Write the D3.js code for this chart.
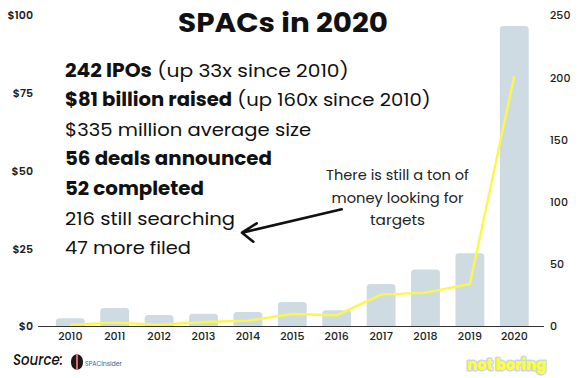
<!DOCTYPE html>
<html><head><meta charset="utf-8">
<script src="https://cdn.jsdelivr.net/npm/d3@7"></script>
<style>body{margin:0;background:#fff}svg{display:block}</style>
</head><body>
<svg id="c" width="582" height="378"></svg>
<script>
// ---- data ----
const years = ["2010","2011","2012","2013","2014","2015","2016","2017","2018","2019","2020"];
const raisedBillions = [2.5, 5.8, 3.5, 3.9, 4.5, 7.7, 5.1, 13.5, 18.2, 23.4, 96.5];
const ipoCounts = [1, 2.7, 1, 3.2, 4.3, 9.6, 8.6, 25.2, 26.8, 33.8, 201];
const leftTicks = [0, 25, 50, 75, 100];
const rightTicks = [0, 50, 100, 150, 200, 250];
const titleText = "SPACs in 2020";
const statLines = [
  [["242 IPOs", true], [" (up 33x since 2010)", false]],
  [["$81 billion raised", true], [" (up 160x since 2010)", false]],
  [["$335 million average size", false]],
  [["56 deals announced", true]],
  [["52 completed", true]],
  [["216 still searching", false]],
  [["47 more filed", false]]
];
const annotationLines = ["There is still a ton of", "money looking for", "targets"];

// ---- layout ----
const FONT = "Poppins, Inter, 'Open Sans', sans-serif";
const svg = d3.select("#c");
svg.append("rect").attr("width", 582).attr("height", 378).attr("fill", "#fff");

const x = d3.scaleBand().domain(years).range([48.1, 536.5]).paddingInner(0.35).paddingOuter(0.175);
const yL = d3.scaleLinear().domain([0, 100]).range([326, 15]);
const yR = d3.scaleLinear().domain([0, 250]).range([326, 15]);

function fitText(g, textSel, target) {
  const w = textSel.node().getComputedTextLength();
  const s = target / w;
  const t = g.attr("data-t");
  g.attr("transform", t + ` scale(${s},1)`);
}

// bars
function topRounded(x0, y0, w, h, r) {
  r = Math.min(r, h / 2, w / 2);
  return `M${x0},${y0 + h}V${y0 + r}Q${x0},${y0} ${x0 + r},${y0}H${x0 + w - r}Q${x0 + w},${y0} ${x0 + w},${y0 + r}V${y0 + h}Z`;
}
svg.append("g").selectAll("path").data(years).join("path")
  .attr("fill", "#cfdbe3")
  .attr("d", (yr, i) => topRounded(x(yr), yL(raisedBillions[i]), x.bandwidth(), yL(0) - yL(raisedBillions[i]), 3.5));

// baseline
svg.append("line").attr("x1", 38).attr("x2", 544).attr("y1", yL(0) + 0.5).attr("y2", yL(0) + 0.5)
  .attr("stroke", "#333").attr("stroke-width", 1.2);

// line
const line = d3.line().x((d, i) => x(years[i]) + x.bandwidth() / 2).y(d => yR(d));
svg.append("path").datum(ipoCounts).attr("d", line).attr("fill", "none")
  .attr("stroke", "#fbf84a").attr("stroke-width", 2.4).attr("stroke-linejoin", "round");

// left axis
const axL = d3.axisLeft(yL).tickValues(leftTicks).tickSize(0).tickPadding(0).tickFormat(d => "$" + d);
const gL = svg.append("g").attr("transform", "translate(33,0)").call(axL);
gL.select(".domain").remove();
gL.selectAll("text").attr("font-family", FONT).attr("font-size", 11).attr("font-weight", 600).attr("fill", "#222").attr("dy", "0.35em");

// right axis
const axR = d3.axisRight(yR).tickValues(rightTicks).tickSize(0).tickPadding(0);
const gR = svg.append("g").attr("transform", "translate(550,0)").call(axR);
gR.select(".domain").remove();
gR.selectAll("text").attr("font-family", FONT).attr("font-size", 11).attr("font-weight", 500).attr("fill", "#222").attr("dy", "0.35em");

// bottom axis
const axB = d3.axisBottom(x).tickSize(0).tickPadding(0);
const gB = svg.append("g").attr("transform", "translate(0,332)").call(axB);
gB.select(".domain").remove();
gB.selectAll("text").attr("font-family", FONT).attr("font-size", 11).attr("font-weight", 500).attr("fill", "#222").attr("dy", "0.75em");

// title
{
  const g = svg.append("g").attr("data-t", "translate(283,32)");
  const t = g.append("text").attr("text-anchor", "middle").attr("font-family", FONT)
    .attr("font-size", 26).attr("font-weight", 700).attr("fill", "#111").text(titleText);
  fitText(g, t, 210);
}

// stat lines
const statWidths = [284, 366, 246, 207, 139, 170, 126];
statLines.forEach((parts, i) => {
  const g = svg.append("g").attr("data-t", `translate(65,${76.5 + i * 29.6})`);
  const t = g.append("text").attr("font-family", FONT).attr("font-size", 18.5).attr("fill", "#111");
  parts.forEach(p => t.append("tspan").attr("font-weight", p[1] ? 700 : 400).text(p[0]));
  fitText(g, t, statWidths[i]);
});

// annotation
const annWidths = [143, 132, 55];
annotationLines.forEach((s, i) => {
  const g = svg.append("g").attr("data-t", `translate(397.5,${180 + i * 22.5})`);
  const t = g.append("text").attr("text-anchor", "middle").attr("font-family", FONT)
    .attr("font-size", 13.5).attr("fill", "#222").text(s);
  fitText(g, t, annWidths[i]);
});

// arrow
svg.append("path").attr("d", "M341.7,209.3L242,232.7M256.7,223.3L242,232.7L253.3,241.7")
  .attr("fill", "none").attr("stroke", "#111").attr("stroke-width", 2.6).attr("stroke-linecap", "round").attr("stroke-linejoin", "round");

// source
{
  const g = svg.append("g").attr("data-t", "translate(13,365)");
  const t = g.append("text").attr("font-family", FONT).attr("font-size", 15).attr("font-style", "italic")
    .attr("font-weight", 500).attr("fill", "#111").text("Source:");
  fitText(g, t, 50);
}
// SPACInsider logo
const logo = svg.append("g").attr("transform", "translate(71,354)");
logo.append("path").attr("d", "M5,0.5C1.5,1 0,4.5 0,8C0,11.5 1.5,15 5,15.5Z").attr("fill", "#1a1a1a");
logo.append("path").attr("d", "M7,0.5C10.5,1 12,4.5 12,8C12,11.5 10.5,15 7,15.5Z").attr("fill", "#1a1a1a");
logo.append("rect").attr("x", 5.3).attr("y", 0).attr("width", 1.4).attr("height", 16).attr("fill", "#d42a2a");
{
  const g = svg.append("g").attr("data-t", "translate(85,366)");
  const t = g.append("text").attr("font-family", FONT).attr("font-size", 6.5).attr("fill", "#3d5c86").text("SPACInsider");
  fitText(g, t, 37);
}

// not boring
{
  const g = svg.append("g").attr("data-t", "translate(506.5,370)");
  const t = g.append("text").attr("text-anchor", "middle").attr("font-family", FONT).attr("font-size", 15)
    .attr("font-weight", 800).attr("fill", "#ffff36").attr("stroke", "#c9d7e1").attr("stroke-width", 3)
    .attr("paint-order", "stroke").attr("stroke-linejoin", "round").text("not boring");
  fitText(g, t, 79);
}
</script>
</body></html>
